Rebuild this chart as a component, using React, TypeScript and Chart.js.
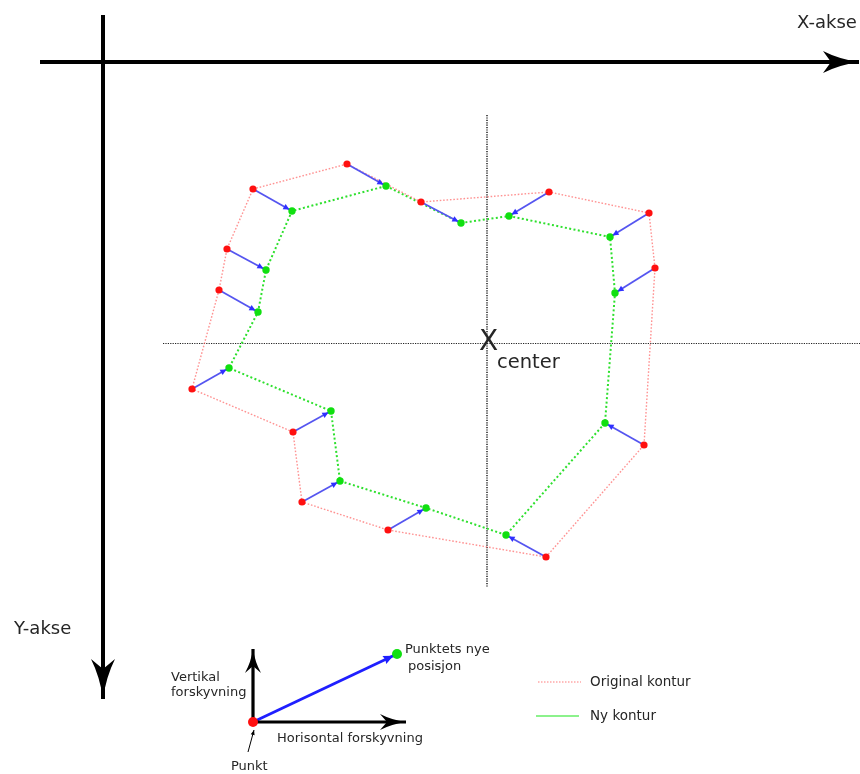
import React, { useEffect, useRef } from "react";
import { Chart, registerables } from "chart.js";

Chart.register(...registerables);

// Original contour (red) points, diagram units (x right, y down)
const origX = [347, 421, 549, 649, 655, 644, 546, 388, 302, 293, 192, 219, 227, 253];
const origY = [164, 202, 192, 213, 268, 445, 557, 530, 502, 432, 389, 290, 249, 189];
// New contour (green) points, same order as the original ones
const newX = [386, 461, 509, 610, 615, 605, 506, 426, 340, 331, 229, 258, 266, 292];
const newY = [186, 223, 216, 237, 293, 423, 535, 508, 481, 411, 368, 312, 270, 211];

// Centre lines
const centerX = 487;
const centerY = 343.5;
const centerXRange = [163, 860];
const centerYRange = [115, 587];

// Coordinate axes (start, tip)
const xAxisX = [40, 859];
const xAxisY = [62, 62];
const yAxisX = [103, 103];
const yAxisY = [15, 699];

// Explanation sketch
const punktX = 253;
const punktY = 722;
const nyPosX = 397;
const nyPosY = 654;
const horizTipX = 406;
const vertTipY = 649;
const pointerX = [248, 254];
const pointerY = [752, 730];

// Legend samples
const legendOrigX = [538, 581];
const legendOrigY = [682, 682];
const legendNyX = [536, 579];
const legendNyY = [716, 716];

// Labels
const labelTexts = [
  "X-akse",
  "Y-akse",
  "X",
  "center",
  "Punktets nye",
  "posisjon",
  "Vertikal",
  "forskyvning",
  "Horisontal forskyvning",
  "Punkt",
  "Original kontur",
  "Ny kontur",
];
const labelX = [797, 14, 479, 497, 405, 408, 171, 171, 277, 231, 590, 590];
const labelY = [23, 629, 343, 363, 650, 667, 678, 693, 739, 767, 682, 716];
const labelSize = [18, 18, 28, 19.5, 13, 13, 13, 13, 13, 13, 13.5, 13.5];

const pts = (xs: number[], ys: number[]) => xs.map((x, i) => ({ x, y: ys[i] }));
const closed = (xs: number[], ys: number[]) => [...pts(xs, ys), { x: xs[0], y: ys[0] }];

const FONT = "'DejaVu Sans', Verdana, sans-serif";

const arrowPlugin = {
  id: "arrowHeads",
  afterDatasetsDraw(chart: any) {
    const ctx = chart.ctx;
    chart.data.datasets.forEach((ds: any, i: number) => {
      const head = ds.arrowHead;
      if (!head) return;
      const meta = chart.getDatasetMeta(i);
      const n = meta.data.length;
      if (n < 2) return;
      const p1 = meta.data[n - 2];
      const p2 = meta.data[n - 1];
      const a = Math.atan2(p2.y - p1.y, p2.x - p1.x);
      const off = head.offset || 0;
      const tx = p2.x - Math.cos(a) * off;
      const ty = p2.y - Math.sin(a) * off;
      ctx.save();
      ctx.translate(tx, ty);
      ctx.rotate(a);
      ctx.beginPath();
      ctx.moveTo(0, 0);
      if (head.curved) {
        ctx.quadraticCurveTo(-head.len * 0.55, -head.half * 0.25, -head.len, -head.half);
        ctx.lineTo(-head.len + head.notch, 0);
        ctx.lineTo(-head.len, head.half);
        ctx.quadraticCurveTo(-head.len * 0.55, head.half * 0.25, 0, 0);
      } else {
        ctx.lineTo(-head.len, -head.half);
        ctx.lineTo(-head.len + head.notch, 0);
        ctx.lineTo(-head.len, head.half);
      }
      ctx.closePath();
      ctx.fillStyle = head.color;
      ctx.fill();
      ctx.restore();
    });
  },
};

const textPlugin = {
  id: "diagramText",
  afterDraw(chart: any) {
    const ctx = chart.ctx;
    const xs = chart.scales.x;
    const ys = chart.scales.y;
    ctx.save();
    ctx.fillStyle = "#262626";
    ctx.textBaseline = "middle";
    ctx.textAlign = "left";
    labelTexts.forEach((t, i) => {
      ctx.font = `${labelSize[i]}px ${FONT}`;
      ctx.fillText(t, xs.getPixelForValue(labelX[i]), ys.getPixelForValue(labelY[i]));
    });
    ctx.restore();
  },
};

const bgPlugin = {
  id: "whiteBg",
  beforeDraw(chart: any) {
    const ctx = chart.ctx;
    ctx.save();
    ctx.fillStyle = "#ffffff";
    ctx.fillRect(0, 0, chart.width, chart.height);
    ctx.restore();
  },
};

export default function App() {
  const ref = useRef<HTMLCanvasElement | null>(null);

  useEffect(() => {
    if (!ref.current) return;
    const line = (data: any[], color: string, width: number, dash: number[], order: number, extra: any = {}) => ({
      data,
      showLine: true,
      borderColor: color,
      borderWidth: width,
      borderDash: dash,
      pointRadius: 0,
      fill: false,
      tension: 0,
      order,
      ...extra,
    });

    const datasets: any[] = [];
    // centre lines
    datasets.push(line([{ x: centerXRange[0], y: centerY }, { x: centerXRange[1], y: centerY }], "#222", 1.2, [1.2, 1.2], 50));
    datasets.push(line([{ x: centerX, y: centerYRange[0] }, { x: centerX, y: centerYRange[1] }], "#222", 1.5, [1.2, 1.2], 50));
    // axes
    datasets.push(line(pts(xAxisX, xAxisY), "#000", 4, [], 40, {
      arrowHead: { len: 36, half: 11, notch: 8, color: "#000", curved: true },
    }));
    datasets.push(line(pts(yAxisX, yAxisY), "#000", 4, [], 40, {
      arrowHead: { len: 40, half: 12, notch: 10, color: "#000", curved: true },
    }));
    // contours
    datasets.push(line(closed(origX, origY), "rgba(255,100,100,0.7)", 1.4, [1.6, 1.8], 30));
    datasets.push(line(closed(newX, newY), "#2ee02e", 2, [2, 2.4], 30));
    // displacement arrows
    origX.forEach((x, i) => {
      datasets.push(line([{ x, y: origY[i] }, { x: newX[i], y: newY[i] }], "#5555f0", 1.8, [], 20, {
        arrowHead: { len: 6, half: 3, notch: 0, color: "#3030ff", offset: 3 },
      }));
    });
    // contour points
    datasets.push({
      data: pts(origX, origY),
      showLine: false,
      pointRadius: 3.6,
      pointBackgroundColor: "#ff1010",
      pointBorderWidth: 0,
      order: 5,
    });
    datasets.push({
      data: pts(newX, newY),
      showLine: false,
      pointRadius: 3.7,
      pointBackgroundColor: "#10e010",
      pointBorderWidth: 0,
      order: 5,
    });
    // explanation sketch
    datasets.push(line([{ x: punktX, y: punktY }, { x: punktX, y: vertTipY }], "#000", 3.2, [], 20, {
      arrowHead: { len: 24, half: 8, notch: 7, color: "#000", curved: true },
    }));
    datasets.push(line([{ x: punktX, y: punktY }, { x: horizTipX, y: punktY }], "#000", 3.2, [], 20, {
      arrowHead: { len: 26, half: 8, notch: 7, color: "#000", curved: true },
    }));
    datasets.push(line([{ x: punktX, y: punktY }, { x: nyPosX, y: nyPosY }], "#1f1fff", 2.8, [], 20, {
      arrowHead: { len: 10, half: 4.5, notch: 1, color: "#1f1fff", offset: 4 },
    }));
    datasets.push(line(pts(pointerX, pointerY), "#000", 1, [], 20, {
      arrowHead: { len: 5, half: 2, notch: 0, color: "#000" },
    }));
    datasets.push({
      data: [{ x: punktX, y: punktY }],
      showLine: false,
      pointRadius: 5,
      pointBackgroundColor: "#ff1010",
      pointBorderWidth: 0,
      order: 4,
    });
    datasets.push({
      data: [{ x: nyPosX, y: nyPosY }],
      showLine: false,
      pointRadius: 5,
      pointBackgroundColor: "#10e010",
      pointBorderWidth: 0,
      order: 4,
    });
    // legend samples
    datasets.push(line(pts(legendOrigX, legendOrigY), "rgba(255,90,90,0.8)", 1.2, [1.5, 1.5], 20));
    datasets.push(line(pts(legendNyX, legendNyY), "#66ee66", 1.3, [], 20));

    const chart = new Chart(ref.current, {
      type: "scatter",
      data: { datasets },
      options: {
        animation: false,
        responsive: true,
        maintainAspectRatio: false,
        layout: { padding: 0, autoPadding: false },
        events: [],
        plugins: { legend: { display: false }, tooltip: { enabled: false } },
        scales: {
          x: { type: "linear", min: 0, max: 860, display: false },
          y: { type: "linear", min: 0, max: 774, reverse: true, display: false },
        },
        datasets: { scatter: { clip: false } } as any,
      } as any,
      plugins: [bgPlugin, arrowPlugin, textPlugin],
    });
    return () => chart.destroy();
  }, []);

  return (
    <div style={{ position: "absolute", left: 0, top: 0, width: 860, height: 774, background: "#fff" }}>
      <canvas ref={ref} />
    </div>
  );
}
